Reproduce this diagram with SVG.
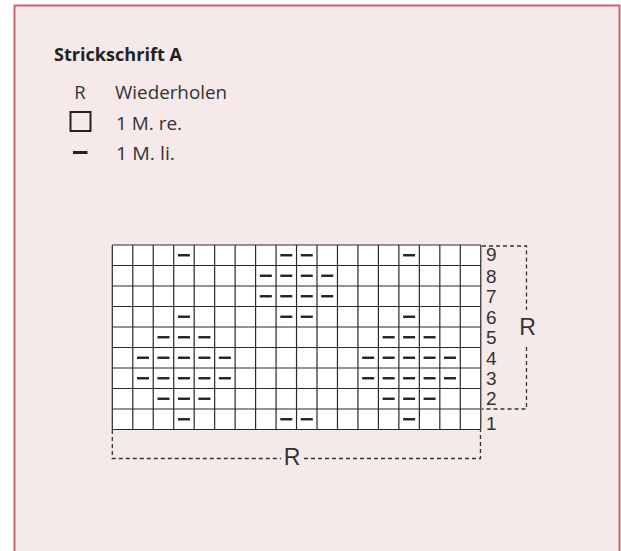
<svg xmlns="http://www.w3.org/2000/svg" xmlns:xlink="http://www.w3.org/1999/xlink" width="621" height="551" viewBox="0 0 621 551">
<style>
.title{font-family:"Open Sans","Lato",sans-serif;font-weight:700;font-size:18.5px;fill:#222}
.leg{font-family:"Open Sans","Noto Sans",sans-serif;font-size:18.5px;fill:#333}
.num{font-family:"Liberation Sans",Arial,sans-serif;font-size:19px;fill:#333}
.rlab{font-family:"Liberation Sans",Arial,sans-serif;font-size:23px;fill:#333}
.grid{fill:none;stroke:#2a2a2a;stroke-width:1.2}
.dash{fill:none;stroke:#333;stroke-width:1.3;stroke-dasharray:4 3}
</style>
<defs>
<rect id="d" x="-6" y="-1.2" width="12" height="2.4" fill="#222"/>
</defs>
<rect x="14.5" y="5.5" width="605" height="600" fill="#f5eae9" stroke="#c9666f" stroke-width="2"/>
<g id="legend">
<text class="title" x="54" y="61" textLength="128" lengthAdjust="spacingAndGlyphs">Strickschrift A</text>
<text class="leg" x="80" y="98.5" text-anchor="middle">R</text>
<text class="leg" x="115" y="98.5" textLength="112" lengthAdjust="spacingAndGlyphs">Wiederholen</text>
<rect x="70.5" y="112" width="20" height="19" fill="none" stroke="#222" stroke-width="2"/>
<text class="leg" x="116" y="130" textLength="66" lengthAdjust="spacingAndGlyphs">1 M. re.</text>
<rect x="73" y="151" width="14.5" height="3" fill="#222"/>
<text class="leg" x="116" y="160" textLength="59" lengthAdjust="spacingAndGlyphs">1 M. li.</text>
</g>
<g id="chart">
<rect x="112.3" y="245" width="368.46" height="184.5" fill="#fff"/>
<path class="grid" d="M112.3 245V429.5M132.77 245V429.5M153.24 245V429.5M173.71 245V429.5M194.18 245V429.5M214.65 245V429.5M235.12 245V429.5M255.59 245V429.5M276.06 245V429.5M296.53 245V429.5M317 245V429.5M337.47 245V429.5M357.94 245V429.5M378.41 245V429.5M398.88 245V429.5M419.35 245V429.5M439.82 245V429.5M460.29 245V429.5M480.76 245V429.5M112.3 245H480.76M112.3 265.5H480.76M112.3 286H480.76M112.3 306.5H480.76M112.3 327H480.76M112.3 347.5H480.76M112.3 368H480.76M112.3 388.5H480.76M112.3 409H480.76M112.3 429.5H480.76"/>
<g id="row9"><use href="#d" x="183.94" y="255.25"/><use href="#d" x="286.29" y="255.25"/><use href="#d" x="306.76" y="255.25"/><use href="#d" x="409.11" y="255.25"/></g>
<g id="row8"><use href="#d" x="265.82" y="275.75"/><use href="#d" x="286.29" y="275.75"/><use href="#d" x="306.76" y="275.75"/><use href="#d" x="327.23" y="275.75"/></g>
<g id="row7"><use href="#d" x="265.82" y="296.25"/><use href="#d" x="286.29" y="296.25"/><use href="#d" x="306.76" y="296.25"/><use href="#d" x="327.23" y="296.25"/></g>
<g id="row6"><use href="#d" x="183.94" y="316.75"/><use href="#d" x="286.29" y="316.75"/><use href="#d" x="306.76" y="316.75"/><use href="#d" x="409.11" y="316.75"/></g>
<g id="row5"><use href="#d" x="163.47" y="337.25"/><use href="#d" x="183.94" y="337.25"/><use href="#d" x="204.41" y="337.25"/><use href="#d" x="388.64" y="337.25"/><use href="#d" x="409.11" y="337.25"/><use href="#d" x="429.58" y="337.25"/></g>
<g id="row4"><use href="#d" x="143" y="357.75"/><use href="#d" x="163.47" y="357.75"/><use href="#d" x="183.94" y="357.75"/><use href="#d" x="204.41" y="357.75"/><use href="#d" x="224.88" y="357.75"/><use href="#d" x="368.17" y="357.75"/><use href="#d" x="388.64" y="357.75"/><use href="#d" x="409.11" y="357.75"/><use href="#d" x="429.58" y="357.75"/><use href="#d" x="450.05" y="357.75"/></g>
<g id="row3"><use href="#d" x="143" y="378.25"/><use href="#d" x="163.47" y="378.25"/><use href="#d" x="183.94" y="378.25"/><use href="#d" x="204.41" y="378.25"/><use href="#d" x="224.88" y="378.25"/><use href="#d" x="368.17" y="378.25"/><use href="#d" x="388.64" y="378.25"/><use href="#d" x="409.11" y="378.25"/><use href="#d" x="429.58" y="378.25"/><use href="#d" x="450.05" y="378.25"/></g>
<g id="row2"><use href="#d" x="163.47" y="398.75"/><use href="#d" x="183.94" y="398.75"/><use href="#d" x="204.41" y="398.75"/><use href="#d" x="388.64" y="398.75"/><use href="#d" x="409.11" y="398.75"/><use href="#d" x="429.58" y="398.75"/></g>
<g id="row1"><use href="#d" x="183.94" y="419.25"/><use href="#d" x="286.29" y="419.25"/><use href="#d" x="306.76" y="419.25"/><use href="#d" x="409.11" y="419.25"/></g>
</g>
<g id="row-numbers">
<text class="num" x="486" y="261">9</text>
<text class="num" x="486" y="282.5">8</text>
<text class="num" x="486" y="303">7</text>
<text class="num" x="486" y="324">6</text>
<text class="num" x="486" y="344">5</text>
<text class="num" x="486" y="364.5">4</text>
<text class="num" x="486" y="385">3</text>
<text class="num" x="486" y="405">2</text>
<text class="num" x="486" y="430">1</text>
</g>
<g id="connectors">
<path class="dash" d="M482 246H526.5V310M526.5 347V409H482"/>
<path class="dash" d="M112.3 430V458.5H281M304 458.5H480.5V430"/>
</g>
<g id="repeat-labels">
<text class="rlab" x="527.5" y="335" text-anchor="middle">R</text>
<text class="rlab" x="292" y="464.5" text-anchor="middle">R</text>
</g>
</svg>
